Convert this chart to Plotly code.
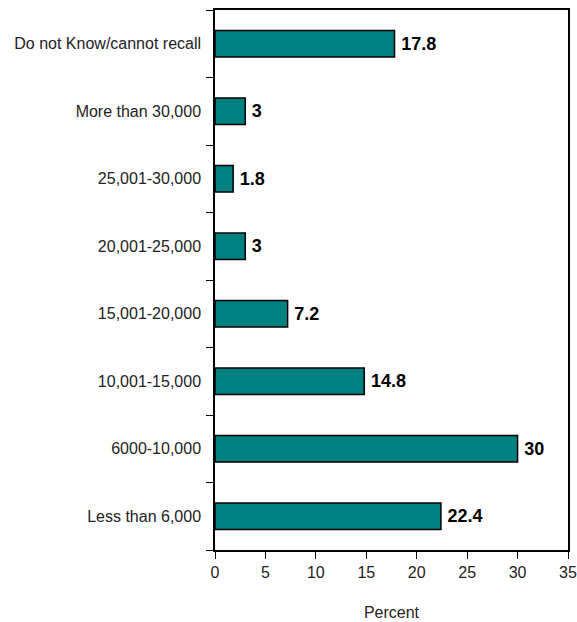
import plotly.graph_objects as go

# Income bands (bottom to top) and share of respondents in each
categories = [
    "Less than 6,000",
    "6000-10,000",
    "10,001-15,000",
    "15,001-20,000",
    "20,001-25,000",
    "25,001-30,000",
    "More than 30,000",
    "Do not Know/cannot recall",
]
percent = [22.4, 30, 14.8, 7.2, 3, 1.8, 3, 17.8]
x_ticks = [0, 5, 10, 15, 20, 25, 30, 35]

FONT = "Liberation Sans Narrow, Arial Narrow, Liberation Sans, Arial, sans-serif"

fig = go.Figure(
    go.Bar(
        x=percent,
        y=categories,
        orientation="h",
        width=0.39,
        marker=dict(color="#008080", line=dict(color="#000000", width=1.5)),
        # a thin leading space keeps the value a little clear of the bar end
        text=[f"\u2009<b>{v:g}</b>" for v in percent],
        textposition="outside",
        textfont=dict(family=FONT, size=18, color="#000000"),
        cliponaxis=False,
    )
)

fig.update_layout(
    width=577,
    height=622,
    margin=dict(l=215, r=9, t=10, b=72),
    paper_bgcolor="white",
    plot_bgcolor="white",
    showlegend=False,
    font=dict(family=FONT, size=16, color="#222222"),
)

fig.update_xaxes(
    range=[0, 35],
    tickvals=x_ticks,
    ticks="outside",
    ticklen=7,
    tickcolor="#000000",
    showgrid=False,
    zeroline=False,
    showline=True,
    linecolor="#000000",
    linewidth=1.5,
    mirror=True,
    automargin=False,
    title=dict(text="Percent", font=dict(family=FONT, size=16), standoff=27),
    tickfont=dict(family=FONT, size=16),
)

fig.update_yaxes(
    categoryorder="array",
    categoryarray=categories,
    ticks="outside",
    tickson="boundaries",
    ticklen=7,
    tickcolor="#000000",
    showgrid=False,
    showline=True,
    linecolor="#000000",
    linewidth=1.5,
    mirror=True,
    automargin=False,
    ticklabelstandoff=9,
    tickfont=dict(family=FONT, size=16),
)

fig.write_html("out.html")
